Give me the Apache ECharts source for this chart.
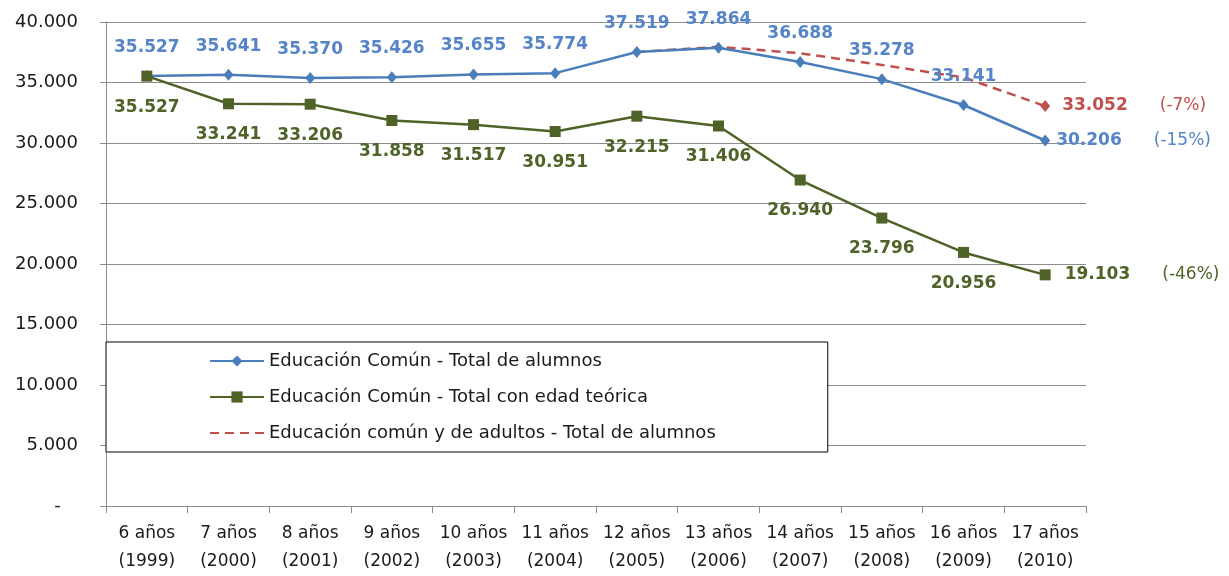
<!DOCTYPE html>
<html>
<head>
<meta charset="utf-8">
<script src="https://cdn.jsdelivr.net/npm/echarts@6/dist/echarts.min.js"></script>
<style>
  html, body { margin: 0; padding: 0; background: #fff; }
  #myChart { width: 1229px; height: 576px; }
</style>
</head>
<body>
<div id="myChart"></div>
<script>
// categorias (edad teorica / año)
const categories = ['6 años\n(1999)', '7 años\n(2000)', '8 años\n(2001)', '9 años\n(2002)', '10 años\n(2003)', '11 años\n(2004)',
  '12 años\n(2005)', '13 años\n(2006)', '14 años\n(2007)', '15 años\n(2008)', '16 años\n(2009)', '17 años\n(2010)']
const totalAlumnos = [35527, 35641, 35370, 35426, 35655, 35774, 37519, 37864, 36688, 35278, 33141, 30206]
const edadTeorica = [35527, 33241, 33206, 31858, 31517, 30951, 32215, 31406, 26940, 23796, 20956, 19103]
// linea punteada (valores estimados del grafico, salvo el ultimo)
const comunAdultos = [null, null, null, null, null, null, 37519, 37950, 37420, 36450, 35420, 33052]
const variaciones = ['(-15%)', '(-46%)', '(-7%)']
const seriesNames = ['Educación Común - Total de alumnos', 'Educación Común - Total con edad teórica', 'Educación común y de adultos - Total de alumnos']
const yTicks = { min: 0, max: 40000, interval: 5000 }

const FONT = 'DejaVu Sans'
const BLUE = '#4A7EBB', BLUE_TXT = '#5585C8'
const GREEN = '#4F6228'
const RED = '#C0504D'
const AXIS = '#8C8C8C'

function fmt(v) {
  return (v / 1000).toFixed(3)
}

// label de la ultima posicion: valor + variacion
function lastLabel(color, pct, gap) {
  return {
    show: true,
    position: 'right',
    distance: gap,
    formatter: function (p) { return '{v|' + fmt(p.value) + '}{p|' + pct + '}' },
    rich: {
      v: { fontFamily: FONT, fontSize: 17, fontWeight: 'bold', color: color },
      p: { fontFamily: FONT, fontSize: 17, fontWeight: 'normal', color: color, padding: [0, 0, 0, 32] }
    }
  }
}

const blueData = totalAlumnos.map(function (v, i) {
  if (i === totalAlumnos.length - 1) return { value: v, label: lastLabel(BLUE_TXT, variaciones[0], 6) }
  return v
})
const greenData = edadTeorica.map(function (v, i) {
  if (i === edadTeorica.length - 1) return { value: v, label: lastLabel(GREEN, variaciones[1], 14) }
  return v
})
const redData = comunAdultos.map(function (v, i) {
  if (i === comunAdultos.length - 1) {
    return { value: v, symbol: 'diamond', symbolSize: [10, 12], label: lastLabel(RED, variaciones[2], 12) }
  }
  return v
})

const option = {
  backgroundColor: '#fff',
  animation: false,
  grid: { left: 106, right: 143, top: 22, bottom: 68 },
  legend: {
    orient: 'vertical',
    left: 106,
    top: 342,
    padding: [10, 112, 10, 103],
    itemGap: 18,
    itemWidth: 54,
    itemHeight: 14,
    backgroundColor: '#fff',
    borderColor: '#000',
    borderWidth: 1,
    textStyle: { fontFamily: FONT, fontSize: 18, color: '#1a1a1a' },
    data: [
      { name: seriesNames[0] },
      { name: seriesNames[1] },
      { name: seriesNames[2], itemStyle: { opacity: 0 } }
    ]
  },
  xAxis: {
    type: 'category',
    data: categories,
    boundaryGap: true,
    axisLine: { show: true, lineStyle: { color: AXIS, width: 1 } },
    axisTick: { show: true, length: 7, lineStyle: { color: AXIS } },
    axisLabel: { fontFamily: FONT, fontSize: 17, color: '#1a1a1a', lineHeight: 28, margin: 14, interval: 0 }
  },
  yAxis: {
    type: 'value',
    min: yTicks.min,
    max: yTicks.max,
    interval: yTicks.interval,
    axisLine: { show: true, lineStyle: { color: AXIS, width: 1 } },
    axisTick: { show: true, length: 6, lineStyle: { color: AXIS } },
    splitLine: { show: true, lineStyle: { color: AXIS, width: 1 } },
    axisLabel: {
      fontFamily: FONT, fontSize: 18, color: '#1a1a1a', margin: 28,
      formatter: function (v) { return v === 0 ? '-   ' : fmt(v) }
    }
  },
  series: [
    {
      name: seriesNames[0],
      type: 'line',
      data: blueData,
      z: 3,
      symbol: 'diamond',
      symbolSize: [10, 12],
      itemStyle: { color: BLUE },
      lineStyle: { color: BLUE, width: 2.5 },
      label: {
        show: true, position: 'top', distance: 14,
        fontFamily: FONT, fontSize: 17, fontWeight: 'bold', color: BLUE_TXT,
        formatter: function (p) { return fmt(p.value) }
      }
    },
    {
      name: seriesNames[1],
      type: 'line',
      data: greenData,
      z: 4,
      symbol: 'rect',
      symbolSize: 11,
      itemStyle: { color: GREEN },
      lineStyle: { color: GREEN, width: 2.5 },
      label: {
        show: true, position: 'bottom', distance: 17,
        fontFamily: FONT, fontSize: 17, fontWeight: 'bold', color: GREEN,
        formatter: function (p) { return fmt(p.value) }
      }
    },
    {
      name: seriesNames[2],
      type: 'line',
      data: redData,
      z: 2,
      symbol: 'none',
      connectNulls: false,
      itemStyle: { color: RED },
      lineStyle: { color: RED, width: 2.5, type: [9, 6] },
      label: { show: false }
    }
  ]
}

const myChart = echarts.init(document.getElementById('myChart'))
myChart.setOption(option)
</script>
</body>
</html>
